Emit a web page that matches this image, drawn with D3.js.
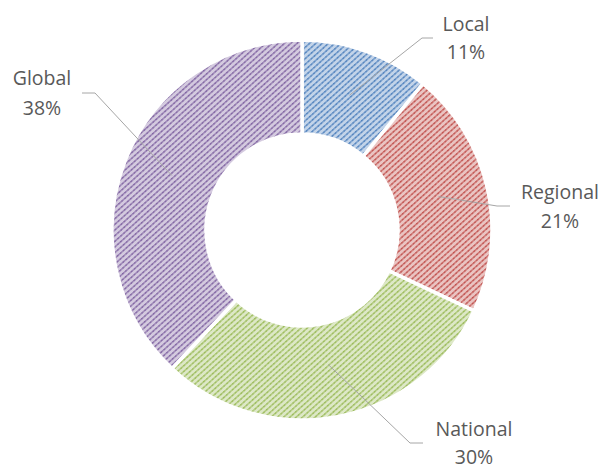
<!DOCTYPE html>
<html><head><meta charset="utf-8">
<script src="https://cdn.jsdelivr.net/npm/d3@7"></script>
<style>body{margin:0;background:#fff}svg{display:block}</style>
</head><body>
<script>
const categories = ["Local", "Regional", "National", "Global"];
const values = [11, 21, 30, 38];
const labels = ["11%", "21%", "30%", "38%"];
const colors = ["#4f81bd", "#c0504d", "#9bbb59", "#8064a2"];

const W = 603, H = 469;
const cx = 302, cy = 230, R = 190, r0 = 96;
const svg = d3.select("body").append("svg").attr("width", W).attr("height", H);
const defs = svg.append("defs");

colors.forEach((c, i) => {
  const p = defs.append("pattern").attr("id", "pat" + i)
    .attr("patternUnits", "userSpaceOnUse").attr("width", 4).attr("height", 4.2)
    .attr("patternTransform", "rotate(-42)");
  const mix = t => d3.interpolateRgb("#ffffff", c)(t);
  p.append("rect").attr("width", 4).attr("height", 4.2).attr("fill", mix(0.34));
  p.append("rect").attr("y", 0).attr("width", 4).attr("height", 1.5).attr("fill", mix(0.78));
  p.append("rect").attr("x", 1).attr("y", 0).attr("width", 1.5).attr("height", 1.5).attr("fill", c);
});

const pie = d3.pie().sort(null).value(d => d)(values);
const arc = d3.arc().innerRadius(r0).outerRadius(R);
const g = svg.append("g").attr("transform", `translate(${cx},${cy})`);
g.selectAll("path").data(pie).join("path")
  .attr("d", arc)
  .attr("fill", (d, i) => `url(#pat${i})`)
  .attr("stroke", "#fff").attr("stroke-width", 3.5).attr("stroke-linejoin", "miter");

// label layout (positions of text blocks and elbow points)
const labelPos = [
  {x: 466, y: 31, dy: 28, elbow: [422, 38], end: [433, 38]},
  {x: 560, y: 199, dy: 29, elbow: [497, 206], end: [510, 206]},
  {x: 474, y: 436, dy: 28, elbow: [410, 443], end: [423, 443]},
  {x: 42, y: 85, dy: 30, elbow: [95, 93], end: [82, 93]}
];
const inner = d3.arc().innerRadius(140).outerRadius(140);
pie.forEach((d, i) => {
  const c = inner.centroid(d);
  const L = labelPos[i];
  svg.append("polyline")
    .attr("points", [[cx + c[0], cy + c[1] - 3], L.elbow, L.end].map(p => p.join(",")).join(" "))
    .attr("fill", "none").attr("stroke", "#a6a6a6").attr("stroke-width", 1);
  const t = svg.append("text").attr("text-anchor", "middle")
    .attr("font-family", "'Open Sans', sans-serif").attr("font-size", 19.5).attr("fill", "#595959");
  t.append("tspan").attr("x", L.x).attr("y", L.y).text(categories[i]);
  t.append("tspan").attr("x", L.x).attr("y", L.y + L.dy).text(labels[i]);
});
</script>
</body></html>
